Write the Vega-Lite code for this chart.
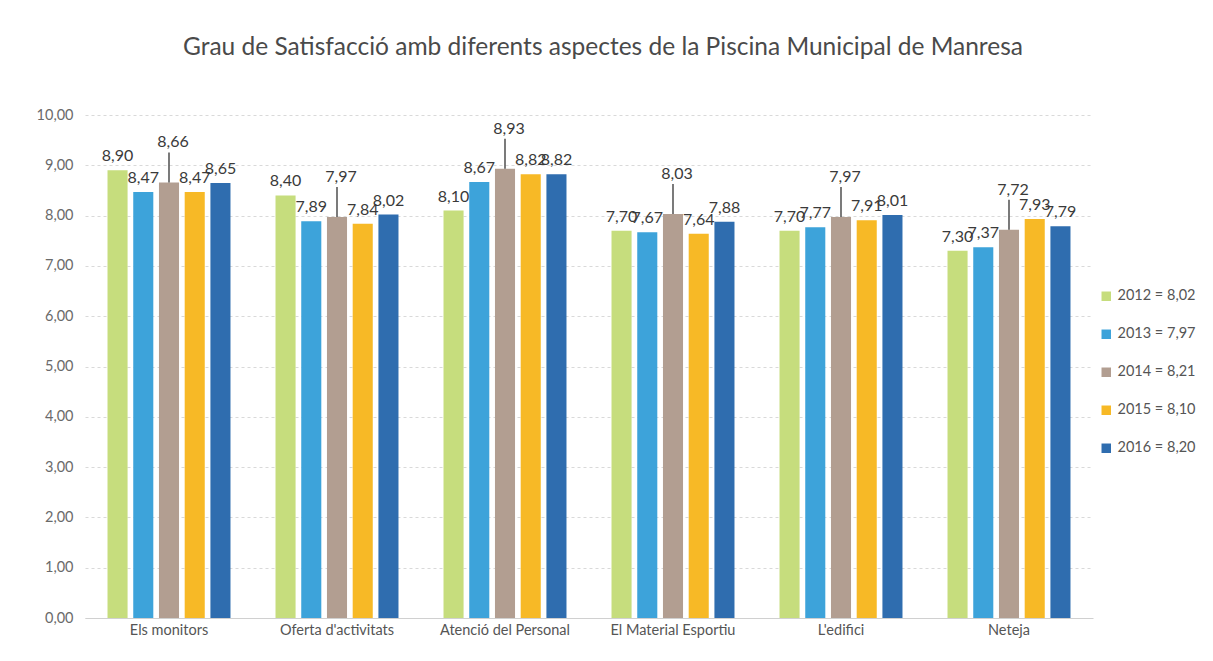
{
  "$schema": "https://vega.github.io/schema/vega-lite/v6.json",
  "width": 1008,
  "height": 503,
  "padding": {"left": 36, "top": 34, "right": 0, "bottom": 5},
  "background": "white",
  "title": {
    "text": "Grau de Satisfacció amb diferents aspectes de la Piscina Municipal de Manresa",
    "fontSize": 24.5,
    "font": "Lato",
    "fontWeight": "normal",
    "color": "#4a4a4a",
    "anchor": "middle",
    "dx": 14,
    "offset": 47
  },
  "data": {
    "values": [
      {"aspecte": "Els monitors", "any": "2012", "valor": 8.90},
      {"aspecte": "Els monitors", "any": "2013", "valor": 8.47},
      {"aspecte": "Els monitors", "any": "2014", "valor": 8.66},
      {"aspecte": "Els monitors", "any": "2015", "valor": 8.47},
      {"aspecte": "Els monitors", "any": "2016", "valor": 8.65},
      {"aspecte": "Oferta d'activitats", "any": "2012", "valor": 8.40},
      {"aspecte": "Oferta d'activitats", "any": "2013", "valor": 7.89},
      {"aspecte": "Oferta d'activitats", "any": "2014", "valor": 7.97},
      {"aspecte": "Oferta d'activitats", "any": "2015", "valor": 7.84},
      {"aspecte": "Oferta d'activitats", "any": "2016", "valor": 8.02},
      {"aspecte": "Atenció del Personal", "any": "2012", "valor": 8.10},
      {"aspecte": "Atenció del Personal", "any": "2013", "valor": 8.67},
      {"aspecte": "Atenció del Personal", "any": "2014", "valor": 8.93},
      {"aspecte": "Atenció del Personal", "any": "2015", "valor": 8.82},
      {"aspecte": "Atenció del Personal", "any": "2016", "valor": 8.82},
      {"aspecte": "El Material Esportiu", "any": "2012", "valor": 7.70},
      {"aspecte": "El Material Esportiu", "any": "2013", "valor": 7.67},
      {"aspecte": "El Material Esportiu", "any": "2014", "valor": 8.03},
      {"aspecte": "El Material Esportiu", "any": "2015", "valor": 7.64},
      {"aspecte": "El Material Esportiu", "any": "2016", "valor": 7.88},
      {"aspecte": "L'edifici", "any": "2012", "valor": 7.70},
      {"aspecte": "L'edifici", "any": "2013", "valor": 7.77},
      {"aspecte": "L'edifici", "any": "2014", "valor": 7.97},
      {"aspecte": "L'edifici", "any": "2015", "valor": 7.91},
      {"aspecte": "L'edifici", "any": "2016", "valor": 8.01},
      {"aspecte": "Neteja", "any": "2012", "valor": 7.30},
      {"aspecte": "Neteja", "any": "2013", "valor": 7.37},
      {"aspecte": "Neteja", "any": "2014", "valor": 7.72},
      {"aspecte": "Neteja", "any": "2015", "valor": 7.93},
      {"aspecte": "Neteja", "any": "2016", "valor": 7.79}
    ]
  },
  "encoding": {
    "x": {
      "field": "aspecte",
      "type": "nominal",
      "sort": null,
      "scale": {"paddingInner": 0.268, "paddingOuter": 0.134},
      "axis": {
        "title": null,
        "labelAngle": 0,
        "labelFontSize": 14.5,
        "labelFont": "Lato",
        "labelColor": "#555555",
        "labelPadding": 5,
        "ticks": false,
        "domainColor": "#d0d0d0",
        "grid": false
      }
    },
    "xOffset": {"field": "any", "type": "nominal", "scale": {"paddingInner": 0.22}},
    "y": {
      "field": "valor",
      "type": "quantitative",
      "scale": {"domain": [0, 10], "nice": false},
      "axis": {
        "title": null,
        "values": [0, 1, 2, 3, 4, 5, 6, 7, 8, 9, 10],
        "labelOverlap": false,
        "format": ".2f",
        "labelFontSize": 14.5,
        "labelFont": "Lato",
        "labelColor": "#6a6a6a",
        "labelPadding": 12,
        "ticks": false,
        "domain": false,
        "grid": true,
        "gridColor": "#d9d9d9",
        "gridDash": [3, 3]
      }
    }
  },
  "layer": [
    {
      "mark": {"type": "bar"},
      "encoding": {
        "color": {
          "field": "any",
          "type": "nominal",
          "scale": {
            "domain": ["2012", "2013", "2014", "2015", "2016"],
            "range": ["#c6dd7d", "#3da3da", "#b29e91", "#f7b926", "#2f6daf"]
          },
          "legend": {
            "title": null,
            "orient": "none",
            "legendX": 1014,
            "legendY": 174,
            "symbolType": "square",
            "symbolSize": 90,
            "labelFontSize": 14.5,
            "labelFont": "Lato",
            "labelColor": "#555555",
            "rowPadding": 23,
            "labelExpr": "datum.label == '2012' ? '2012  = 8,02' : datum.label == '2013' ? '2013  = 7,97' : datum.label == '2014' ? '2014  = 8,21' : datum.label == '2015' ? '2015  = 8,10' : '2016  = 8,20'"
          }
        }
      }
    },
    {
      "transform": [{"filter": "datum.any != '2014'"}],
      "mark": {"type": "text", "baseline": "bottom", "dy": -6, "fontSize": 16, "font": "Lato", "color": "#3a3a3a"},
      "encoding": {
        "text": {"field": "valor", "type": "quantitative", "format": ".2f"}
      }
    },
    {
      "transform": [{"filter": "datum.any == '2014'"}],
      "mark": {"type": "rule", "color": "#333333", "strokeWidth": 1.3, "y2Offset": -30},
      "encoding": {
        "y2": {"field": "valor"}
      }
    },
    {
      "transform": [{"filter": "datum.any == '2014'"}],
      "mark": {"type": "text", "baseline": "bottom", "dy": -32, "dx": 4, "fontSize": 16, "font": "Lato", "color": "#3a3a3a"},
      "encoding": {
        "text": {"field": "valor", "type": "quantitative", "format": ".2f"}
      }
    }
  ],
  "config": {
    "locale": {
      "number": {"decimal": ",", "thousands": ".", "grouping": [3], "currency": ["", " €"]}
    },
    "view": {"stroke": null}
  }
}
